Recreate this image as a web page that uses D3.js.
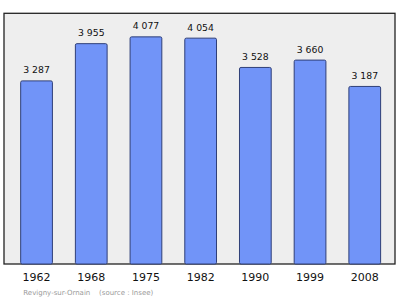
<!DOCTYPE html>
<html><head><meta charset="utf-8">
<script src="https://cdn.jsdelivr.net/npm/d3@7"></script>
<style>html,body{margin:0;padding:0;background:#fff;}svg{display:block;}</style>
</head><body>
<script>
const years = ["1962","1968","1975","1982","1990","1999","2008"];
const population = [3287,3955,4077,4054,3528,3660,3187];
const footerPlace = "Revigny-sur-Ornain";
const footerSource = "(source : Insee)";

const W = 400, H = 299;
const frame = {x0: 4, x1: 395, y0: 13.3, y1: 264};
const svg = d3.select("body").append("svg").attr("width", W).attr("height", H);

const x = d3.scaleBand().domain(years).range([9.2, 392.1]).paddingInner(0.42).paddingOuter(0.21);
const y = d3.scaleLinear().domain([0, 4500]).range([frame.y1, frame.y0]);

svg.append("rect").attr("x", frame.x0).attr("y", frame.y0)
  .attr("width", frame.x1 - frame.x0).attr("height", frame.y1 - frame.y0)
  .attr("fill", "#eeeeee").attr("stroke", "#222").attr("stroke-width", 1.3);

const data = years.map((d, i) => ({year: d, v: population[i]}));
svg.selectAll("rect.bar").data(data).enter().append("rect").attr("class", "bar")
  .attr("x", d => x(d.year)).attr("width", x.bandwidth())
  .attr("y", d => y(d.v)).attr("height", d => y(0) - y(d.v))
  .attr("rx", 1.5)
  .attr("fill", "#7194f8").attr("stroke", "#2f3f78").attr("stroke-width", 1);

const fmt = v => d3.format(",")(v).replace(",", " ");
svg.selectAll("text.val").data(data).enter().append("text").attr("class", "val")
  .attr("x", d => x(d.year) + x.bandwidth() / 2).attr("y", d => y(d.v) - 7.5)
  .attr("text-anchor", "middle").attr("font-family", "DejaVu Sans").attr("font-size", 9.3)
  .attr("fill", "#111").text(d => fmt(d.v));

const xAxis = d3.axisBottom(x).tickSize(0).tickPadding(0);
const g = svg.append("g").attr("transform", `translate(0,${frame.y1})`).call(xAxis);
g.select(".domain").remove();
g.selectAll("text").attr("font-family", "DejaVu Sans").attr("font-size", 11)
  .attr("fill", "#111").attr("dy", null).attr("y", 17);

const ft = svg.append("text").attr("y", 294.5).attr("font-family", "DejaVu Sans")
  .attr("font-size", 7).attr("fill", "#9a9a9a");
ft.append("tspan").attr("x", 23.3).text(footerPlace);
ft.append("tspan").attr("x", 99).text(footerSource);
</script>
</body></html>
